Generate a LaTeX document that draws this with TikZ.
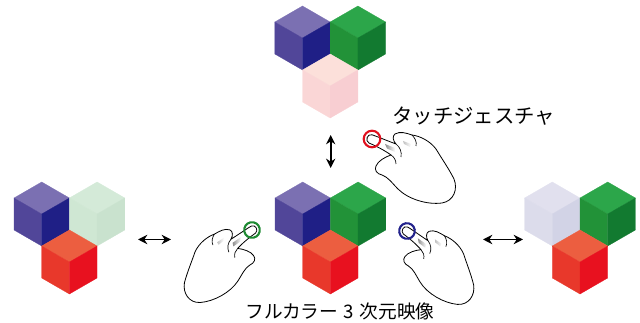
\documentclass[tikz,border=0pt]{standalone}
\usepackage{fontspec}
\newfontfamily\jpfont{Noto Sans CJK JP}
\usetikzlibrary{arrows.meta}

% cube face colours: top / left / right
\definecolor{puT}{HTML}{7B70B2}\definecolor{puL}{HTML}{514699}\definecolor{puR}{HTML}{1F1F86}
\definecolor{grT}{HTML}{2CA64A}\definecolor{grL}{HTML}{229238}\definecolor{grR}{HTML}{127A30}
\definecolor{rdT}{HTML}{EC5E40}\definecolor{rdL}{HTML}{E8382B}\definecolor{rdR}{HTML}{E8111F}
\definecolor{pkT}{HTML}{FCE0DA}\definecolor{pkL}{HTML}{FAD6D6}\definecolor{pkR}{HTML}{F8CED2}
\definecolor{lgT}{HTML}{D4EAD8}\definecolor{lgL}{HTML}{CFE7D3}\definecolor{lgR}{HTML}{C9E2CE}
\definecolor{lpT}{HTML}{E1E0EE}\definecolor{lpL}{HTML}{DCDCEB}\definecolor{lpR}{HTML}{D2D3E6}
\definecolor{ringR}{HTML}{E0101E}\definecolor{ringG}{HTML}{1E8A32}\definecolor{ringB}{HTML}{23238C}

% isometric cube centred at #1 with top, left and right face colours
\newcommand\isocube[4]{%
  \begin{scope}[shift={#1}]
    \filldraw[fill=#2,draw=#2,line width=0.2pt] (0,0) -- (-27.7,-16) -- (0,-32) -- (27.7,-16) -- cycle;
    \filldraw[fill=#3,draw=#3,line width=0.2pt] (0,0) -- (-27.7,-16) -- (-27.7,16) -- (0,32) -- cycle;
    \filldraw[fill=#4,draw=#4,line width=0.2pt] (0,0) -- (27.7,-16) -- (27.7,16) -- (0,32) -- cycle;
  \end{scope}}

% pointing hand with a coloured touch ring at the fingertip
\newcommand\touchhand[2]{%
  \begin{scope}[#1]
    \filldraw[fill=white,draw=black,line width=0.6pt,line join=round]
      (24,5)
      .. controls (12,0.5) and (4,-3) .. (0,-4.2)
      .. controls (-5,-5.5) and (-7,2) .. (-3,4)
      .. controls (4,7) and (12,11) .. (19,16)
      .. controls (13,18) and (6,22) .. (4,27)
      .. controls (2,31) and (5,35) .. (10,36)
      .. controls (16,38) and (20,44) .. (26,50)
      .. controls (36,60) and (55,66) .. (70,64)
      .. controls (82,62) and (86,50) .. (82,40)
      .. controls (77,30) and (70,20) .. (64,10)
      .. controls (58,2) and (48,-3) .. (40,-4)
      .. controls (34,-6) and (28,-8) .. (23,-5)
      .. controls (20,-3) and (21,2) .. (24,5)
      -- cycle;
    % creases of the curled fingers and the thumb
    \draw[line width=0.5pt] (24,5) .. controls (28,8) and (30,13) .. (29,18);
    \draw[line width=0.5pt] (40,-4) .. controls (43,-1) and (45,3) .. (44,7);
    \draw[line width=0.5pt] (19,16) .. controls (22,18) and (24,21) .. (24,25);
    % shading along the finger
    \shade[left color=black!45,right color=white]
      (13,5) -- (23,9) -- (23,13) -- (15,9.5) -- cycle;
    \shade[left color=black!25,right color=white]
      (31,2) -- (39,5) -- (38,8) -- (32,5) -- cycle;
    \draw[#2,line width=1.6pt] (0,0) circle (8.3);
  \end{scope}}

\tikzset{
  dblarrow/.style={{Stealth[length=7pt,width=7pt]}-{Stealth[length=7pt,width=7pt]},line width=1.3pt},
  caption/.style={font=\jpfont\fontsize{14pt}{16pt}\selectfont,inner sep=0pt}
}

\begin{document}
\begin{tikzpicture}[x=0.75pt,y=-0.75pt]
  \useasboundingbox (0,0) rectangle (640,323);

  % top cluster: red cube faded
  \isocube{(302.5,38)}{puT}{puL}{puR}
  \isocube{(357.9,38)}{grT}{grL}{grR}
  \isocube{(330.2,86)}{pkT}{pkL}{pkR}

  % centre cluster: full colour
  \isocube{(302.7,214)}{puT}{puL}{puR}
  \isocube{(358.1,214)}{grT}{grL}{grR}
  \isocube{(330.4,262)}{rdT}{rdL}{rdR}

  % left cluster: green cube faded
  \isocube{(41.7,214)}{puT}{puL}{puR}
  \isocube{(97.1,214)}{lgT}{lgL}{lgR}
  \isocube{(69.4,262)}{rdT}{rdL}{rdR}

  % right cluster: blue cube faded
  \isocube{(552.3,214)}{lpT}{lpL}{lpR}
  \isocube{(607.7,214)}{grT}{grL}{grR}
  \isocube{(580.0,262)}{rdT}{rdL}{rdR}

  % hands
  \touchhand{shift={(372,139)}}{ringR}
  \touchhand{shift={(252,230)},rotate=12,xscale=-0.94,yscale=0.94}{ringG}
  \touchhand{shift={(407,231)},rotate=-13,scale=0.94}{ringB}

  % arrows between the views
  \coordinate (vt) at (330.7,135);
  \coordinate (vb) at (330.7,168);
  \coordinate (l1) at (138,239.5);
  \coordinate (l2) at (171,239.5);
  \coordinate (r1) at (483,239.5);
  \coordinate (r2) at (523,239.5);
  \draw[dblarrow] (vt) -- (vb);
  \draw[dblarrow] (l1) -- (l2);
  \draw[dblarrow] (r1) -- (r2);

  % captions
  \node[caption,font=\jpfont\fontsize{15.3pt}{17pt}\selectfont,anchor=west] (gesture) at (392,116) {タッチジェスチャ};
  \node[caption,anchor=center] (full) at (340,311) {フルカラー\hspace{0.3em}3\hspace{0.3em}次元映像};
\end{tikzpicture}
\end{document}
